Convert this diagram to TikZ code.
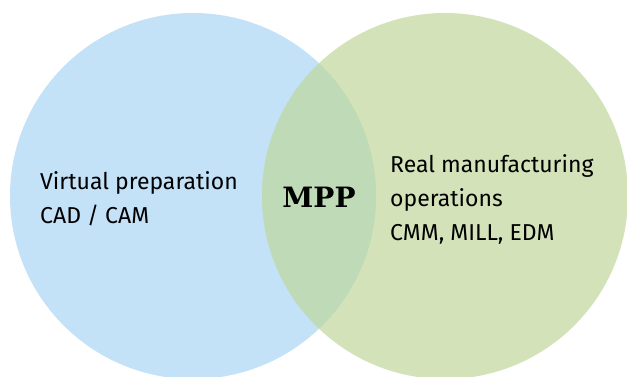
\documentclass[tikz,border=0pt]{standalone}
\usepackage{fontspec}
\setmainfont{Fira Sans}
\newfontfamily\slabfont{DejaVu Serif}
\definecolor{cblue}{RGB}{195,225,247}
\definecolor{cgreen}{RGB}{211,226,184}
\definecolor{cmix}{RGB}{190,218,182}
\begin{document}
\begin{tikzpicture}[x=1pt,y=-1pt,
  lbl/.style={align=left,anchor=west,font=\fontsize{23}{34}\selectfont,inner sep=0pt}]
\useasboundingbox (0,0) rectangle (627,376);
\fill[cblue] (193,196) circle (183);
\fill[cgreen] (445,196) circle (183);
\begin{scope}
\clip (193,196) circle (183);
\fill[cmix] (445,196) circle (183);
\end{scope}
\node[lbl] (left) at (40,199) {Virtual preparation\\CAD / CAM};
\node[lbl] (right) at (390,199) {Real manufacturing\\operations\\CMM, MILL, EDM};
\node[font=\slabfont\bfseries\fontsize{28}{30}\selectfont,inner sep=0pt] (mpp) at (319,197) {MPP};
\end{tikzpicture}
\end{document}
